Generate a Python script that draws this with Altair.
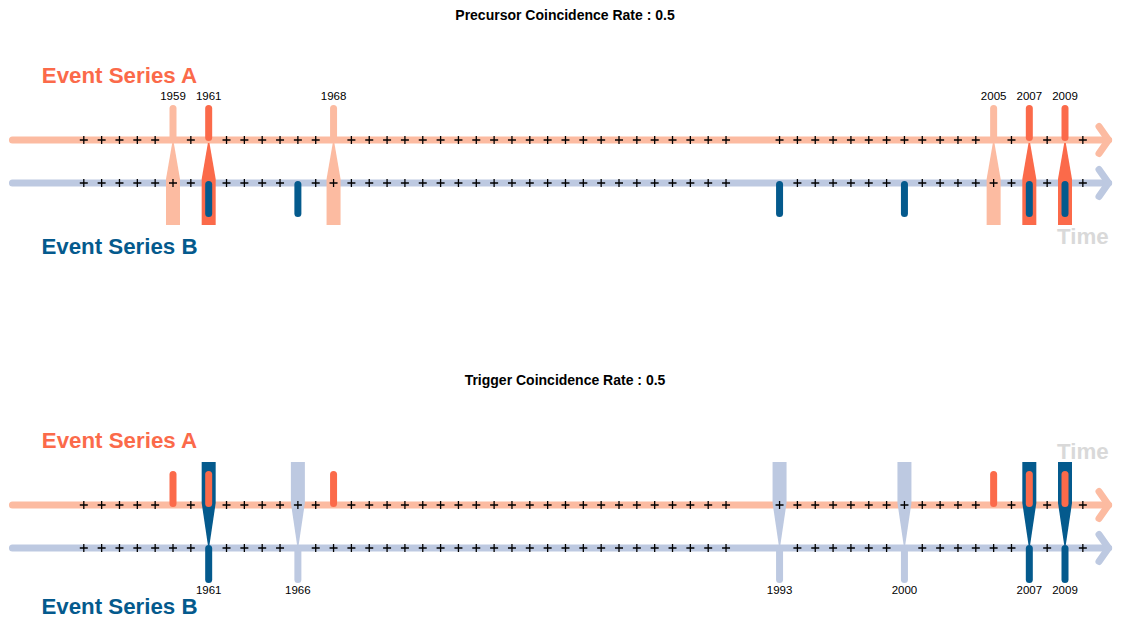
import altair as alt
import pandas as pd

# ---------------- data ----------------
tick_years = [1954, 1955, 1956, 1957, 1958, 1959, 1960, 1961, 1962, 1963, 1964,
              1965, 1966, 1967, 1968, 1969, 1970, 1971, 1972, 1973, 1974, 1975,
              1976, 1977, 1978, 1979, 1980, 1981, 1982, 1983, 1984, 1985, 1986,
              1987, 1988, 1989, 1990, 1993, 1994, 1995, 1996, 1997, 1998, 1999,
              2000, 2001, 2002, 2003, 2004, 2005, 2006, 2007, 2008, 2009, 2010]
events_a = [1959, 1961, 1968, 2005, 2007, 2009]
events_b = [1961, 1966, 1993, 2000, 2007, 2009]
precursor_coincident_a = [1961, 2007, 2009]
trigger_coincident_b = [1961, 2007, 2009]
precursor_rate = 0.5
trigger_rate = 0.5
series_labels = ["Event Series A", "Event Series B"]
time_label = "Time"
time_start = 1950
label_year = 1956
time_label_year = 2010

# ---------------- style / layout ----------------
A_LIGHT, A_DARK = "#FCBBA1", "#FB6A4A"
B_LIGHT, B_DARK = "#BDC9E1", "#045A8D"
TIME_COL = "#D9D9D9"
FONT = "Liberation Sans"
PX_PER_YEAR = 17.84
W = 1105
X0 = 1959 - 165 / PX_PER_YEAR
X1 = X0 + W / PX_PER_YEAR
TIP = X0 + 1100.5 / PX_PER_YEAR
ARM = X0 + 1091.0 / PX_PER_YEAR
HW = 7.0 / PX_PER_YEAR
HWN = 0.8 / PX_PER_YEAR
LA, LB = 0, 43
YTOP = -77
YBOT_TOP, YBOT_BOTTOM = 118, 113


def X(f):
    return alt.X(f, type="quantitative",
                 scale=alt.Scale(domain=[X0, X1], nice=False, zero=False), axis=None)


def panel(kind):
    precursor = kind == "precursor"
    ybot = YBOT_TOP if precursor else YBOT_BOTTOM
    ys = alt.Scale(domain=[YTOP, ybot], reverse=True, nice=False, zero=False)

    def Y(f):
        return alt.Y(f, type="quantitative", scale=ys, axis=None)

    # base lines and arrowheads
    lines = pd.DataFrame({"x": [time_start, time_start], "x2": [TIP, TIP],
                          "y": [LA, LB], "y2": [LA, LB], "c": [A_LIGHT, B_LIGHT]})
    arms = pd.DataFrame({
        "x": [ARM, ARM, ARM, ARM], "x2": [TIP] * 4,
        "y": [LA - 13.5, LA + 13.5, LB - 13.5, LB + 13.5],
        "y2": [LA, LA, LB, LB],
        "c": [A_LIGHT, A_LIGHT, B_LIGHT, B_LIGHT]})
    seg = pd.concat([lines, arms], ignore_index=True)
    seg_layer = alt.Chart(seg).mark_rule(strokeWidth=7, strokeCap="round").encode(
        x=X("x"), x2="x2", y=Y("y"), y2="y2", color=alt.Color("c:N", scale=None))

    # connecting shapes
    rows = []
    if precursor:
        for e in events_a:
            c = A_DARK if e in precursor_coincident_a else A_LIGHT
            for yy, hw in [(LA + 3, HWN), (LB - 4, HW), (LB + 42, HW)]:
                rows.append({"ev": e, "y": yy, "xl": e - hw, "xr": e + hw, "c": c})
    else:
        for e in events_b:
            c = B_DARK if e in trigger_coincident_b else B_LIGHT
            for yy, hw in [(LA - 43, HW), (LA - 2, HW), (LB - 3, HWN)]:
                rows.append({"ev": e, "y": yy, "xl": e - hw, "xr": e + hw, "c": c})
    shapes = alt.Chart(pd.DataFrame(rows)).mark_area(orient="horizontal").encode(
        y=Y("y"), x=X("xl"), x2="xr", detail="ev:N",
        color=alt.Color("c:N", scale=None))

    # year ticks
    tk = [{"x": t, "y": LA} for t in tick_years if t not in events_a] + \
         [{"x": t, "y": LB} for t in tick_years if t not in events_b]
    ticks = alt.Chart(pd.DataFrame(tk)).mark_point(
        shape="M-1,0L1,0M0,-1L0,1", filled=False, size=64, strokeWidth=1.3,
        color="black", opacity=1).encode(x=X("x"), y=Y("y"))

    # event bars
    br = []
    for e in events_a:
        if precursor:
            c = A_DARK if e in precursor_coincident_a else A_LIGHT
            br.append({"x": e, "y": LA - 31.5, "y2": LA - 2.5, "c": c})
        else:
            br.append({"x": e, "y": LA - 30.5, "y2": LA - 1.5, "c": A_DARK})
    for e in events_b:
        if precursor:
            br.append({"x": e, "y": LB + 1.5, "y2": LB + 30.5, "c": B_DARK})
        else:
            c = B_DARK if e in trigger_coincident_b else B_LIGHT
            br.append({"x": e, "y": LB + 0.5, "y2": LB + 31.5, "c": c})
    bars = alt.Chart(pd.DataFrame(br)).mark_rule(strokeWidth=7, strokeCap="round").encode(
        x=X("x"), y=Y("y"), y2="y2", color=alt.Color("c:N", scale=None))

    # year labels
    if precursor:
        yl = pd.DataFrame({"x": events_a, "y": [LA - 43] * len(events_a),
                           "t": [str(e) for e in events_a]})
    else:
        yl = pd.DataFrame({"x": events_b, "y": [LB + 43] * len(events_b),
                           "t": [str(e) for e in events_b]})
    years_txt = alt.Chart(yl).mark_text(font=FONT, fontSize=11.5, color="black",
                                        baseline="middle", align="center").encode(
        x=X("x"), y=Y("y"), text="t:N")

    # series and time labels
    big = pd.DataFrame({
        "x": [label_year, label_year, time_label_year],
        "y": [LA - 64, (LB + 63.5) if precursor else (LB + 58.5),
              (LB + 54) if precursor else (LA - 53)],
        "t": [series_labels[0], series_labels[1], time_label],
        "c": [A_DARK, B_DARK, TIME_COL]})
    big_txt = alt.Chart(big).mark_text(font=FONT, fontSize=22.3, fontWeight="bold",
                                       baseline="middle", align="center").encode(
        x=X("x"), y=Y("y"), text="t:N", color=alt.Color("c:N", scale=None))

    title = ("Precursor Coincidence Rate : " + str(precursor_rate)) if precursor \
        else ("Trigger Coincidence Rate : " + str(trigger_rate))
    return alt.layer(seg_layer, shapes, ticks, bars, years_txt, big_txt).properties(
        width=W, height=ybot - YTOP,
        title=alt.TitleParams(title, font=FONT, fontSize=14, fontWeight="bold",
                              color="black", anchor="middle", offset=40, dx=4.5))


chart = alt.vconcat(panel("precursor"), panel("trigger"), spacing=116).properties(
    padding={"top": 1, "bottom": 0, "left": 0, "right": 0}).configure_view(stroke=None)

chart.save("out.html", embed_options={"renderer": "svg", "actions": False})
